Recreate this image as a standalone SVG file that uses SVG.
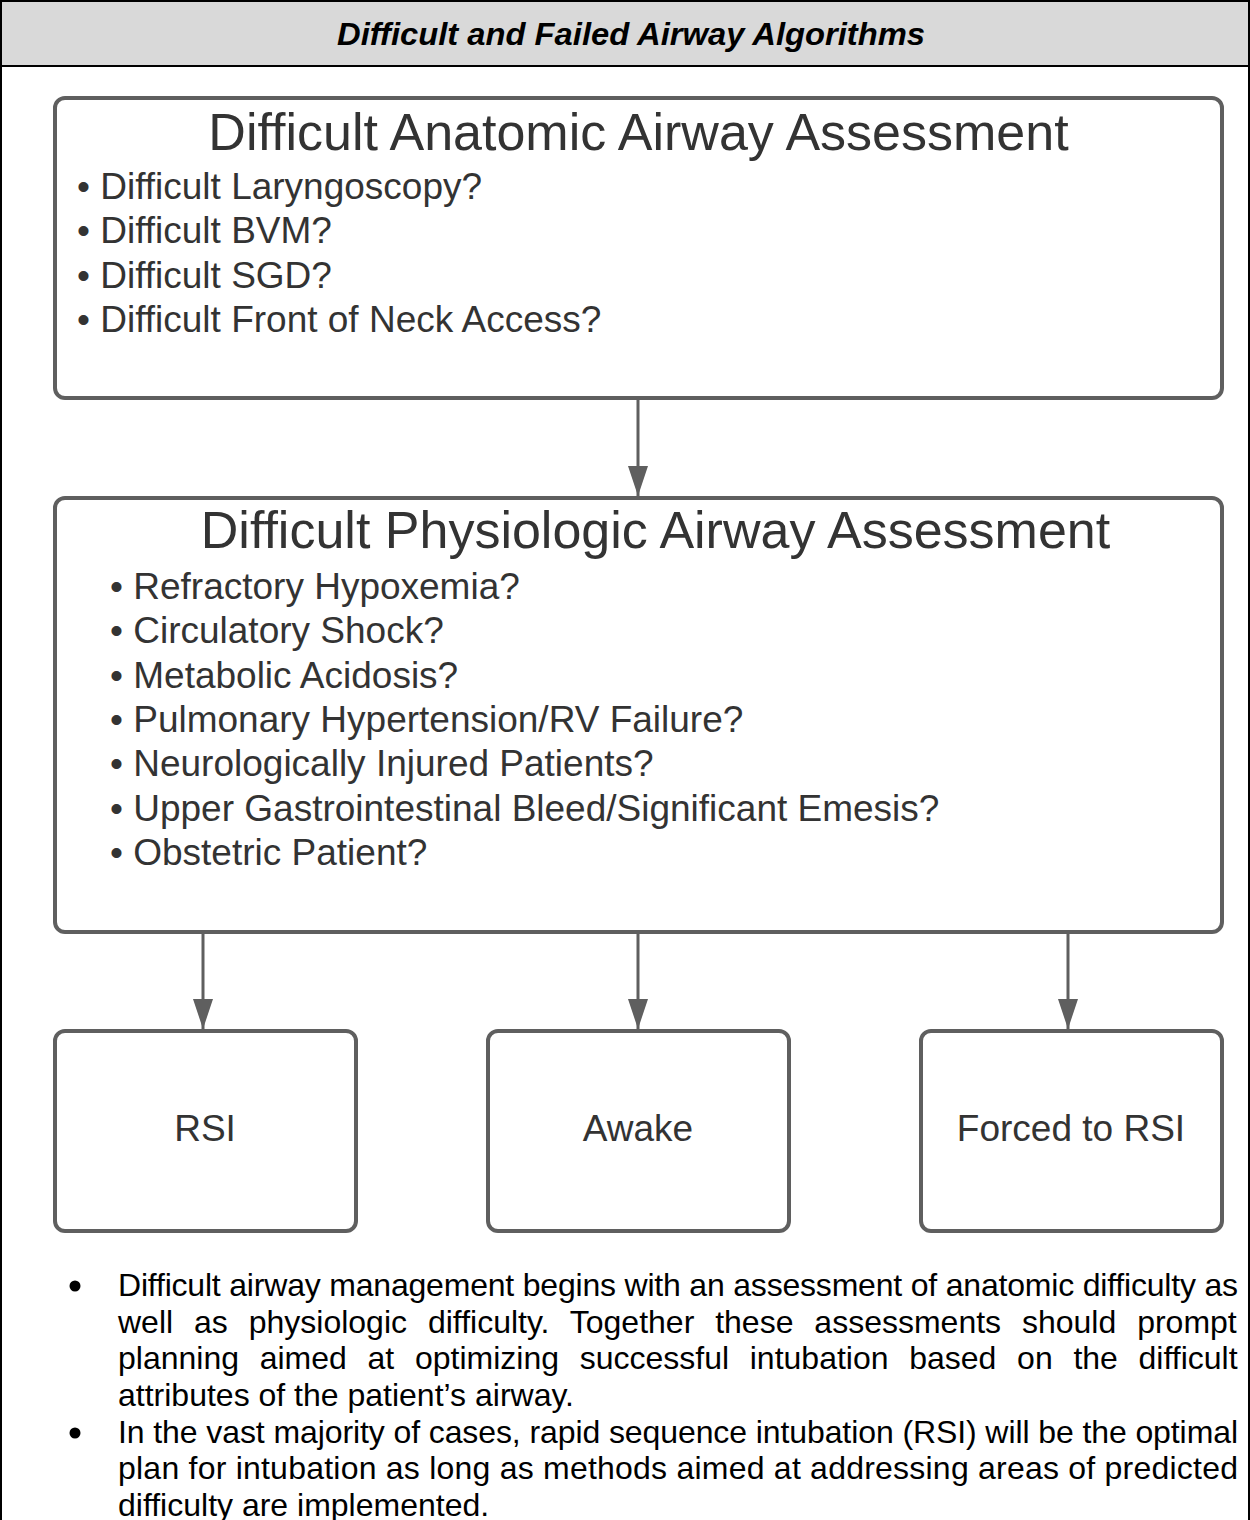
<svg xmlns="http://www.w3.org/2000/svg" width="1250" height="1520" viewBox="0 0 1250 1520">
<style>
.box{fill:#fff;stroke:#5f5f5f;stroke-width:4}
.head{font-family:"Liberation Sans",Arial,sans-serif;font-size:52px;fill:#333;text-anchor:middle}
.item{font-family:"Liberation Sans",Arial,sans-serif;font-size:37px;fill:#333}
.lbl{font-family:"Liberation Sans",Arial,sans-serif;font-size:37px;fill:#333;text-anchor:middle}
.para{font-family:"Liberation Sans",Arial,sans-serif;font-size:32px;fill:#000}
.conn{stroke:#5f5f5f;stroke-width:3;fill:none}
</style>
<defs>
<marker id="ah" markerWidth="30" markerHeight="20" refX="30" refY="10" orient="auto" markerUnits="userSpaceOnUse" viewBox="0 0 30 20">
<path d="M0,0 L30,10 L0,20 Z" fill="#5f5f5f"/>
</marker>
</defs>
<rect x="0" y="0" width="1250" height="1520" fill="#fff"/>
<g id="frame">
<rect x="1" y="1" width="1248" height="65" fill="#d9d9d9" stroke="#000" stroke-width="2"/>
<line x1="1" y1="66" x2="1" y2="1520" stroke="#000" stroke-width="2"/>
<line x1="1249" y1="66" x2="1249" y2="1520" stroke="#000" stroke-width="2"/>
<text x="631" y="45" font-family="Liberation Sans,Arial,sans-serif" font-size="32" font-weight="bold" font-style="italic" text-anchor="middle" textLength="588" lengthAdjust="spacingAndGlyphs" fill="#000">Difficult and Failed Airway Algorithms</text>
</g>
<g id="anatomic">
<rect class="box" x="55" y="98" width="1167" height="300" rx="10"/>
<text class="head" x="638.5" y="150">Difficult Anatomic Airway Assessment</text>
<text class="item" x="77" y="199">• Difficult Laryngoscopy?</text>
<text class="item" x="77" y="243">• Difficult BVM?</text>
<text class="item" x="77" y="288">• Difficult SGD?</text>
<text class="item" x="77" y="332">• Difficult Front of Neck Access?</text>
</g>
<g id="physiologic">
<rect class="box" x="55" y="498" width="1167" height="434" rx="10"/>
<text class="head" x="655.5" y="548">Difficult Physiologic Airway Assessment</text>
<text class="item" x="110" y="599">• Refractory Hypoxemia?</text>
<text class="item" x="110" y="643">• Circulatory Shock?</text>
<text class="item" x="110" y="688">• Metabolic Acidosis?</text>
<text class="item" x="110" y="732">• Pulmonary Hypertension/RV Failure?</text>
<text class="item" x="110" y="776">• Neurologically Injured Patients?</text>
<text class="item" x="110" y="821">• Upper Gastrointestinal Bleed/Significant Emesis?</text>
<text class="item" x="110" y="865">• Obstetric Patient?</text>
</g>
<g id="rsi">
<rect class="box" x="55" y="1031" width="301" height="200" rx="10"/>
<text class="lbl" x="205" y="1141">RSI</text>
</g>
<g id="awake">
<rect class="box" x="488" y="1031" width="301" height="200" rx="10"/>
<text class="lbl" x="638" y="1141">Awake</text>
</g>
<g id="forced">
<rect class="box" x="921" y="1031" width="301" height="200" rx="10"/>
<text class="lbl" x="1071" y="1141">Forced to RSI</text>
</g>
<g id="connectors">
<line class="conn" x1="638" y1="400" x2="638" y2="496" marker-end="url(#ah)"/>
<line class="conn" x1="203" y1="934" x2="203" y2="1029" marker-end="url(#ah)"/>
<line class="conn" x1="638" y1="934" x2="638" y2="1029" marker-end="url(#ah)"/>
<line class="conn" x1="1068" y1="934" x2="1068" y2="1029" marker-end="url(#ah)"/>
</g>
<g id="notes">
<circle cx="75" cy="1286" r="5.5" fill="#000"/>
<circle cx="75" cy="1433" r="5.5" fill="#000"/>
<text class="para" x="118" y="1296" textLength="1120" lengthAdjust="spacing">Difficult airway management begins with an assessment of anatomic difficulty as</text>
<text class="para" x="118" y="1333" word-spacing="12">well as physiologic difficulty. Together these assessments should prompt</text>
<text class="para" x="118" y="1369" word-spacing="11.8">planning aimed at optimizing successful intubation based on the difficult</text>
<text class="para" x="118" y="1406">attributes of the patient’s airway.</text>
<text class="para" x="118" y="1443" textLength="1120" lengthAdjust="spacing">In the vast majority of cases, rapid sequence intubation (RSI) will be the optimal</text>
<text class="para" x="118" y="1479" textLength="1120" lengthAdjust="spacing">plan for intubation as long as methods aimed at addressing areas of predicted</text>
<text class="para" x="118" y="1516">difficulty are implemented.</text>
</g>
</svg>
